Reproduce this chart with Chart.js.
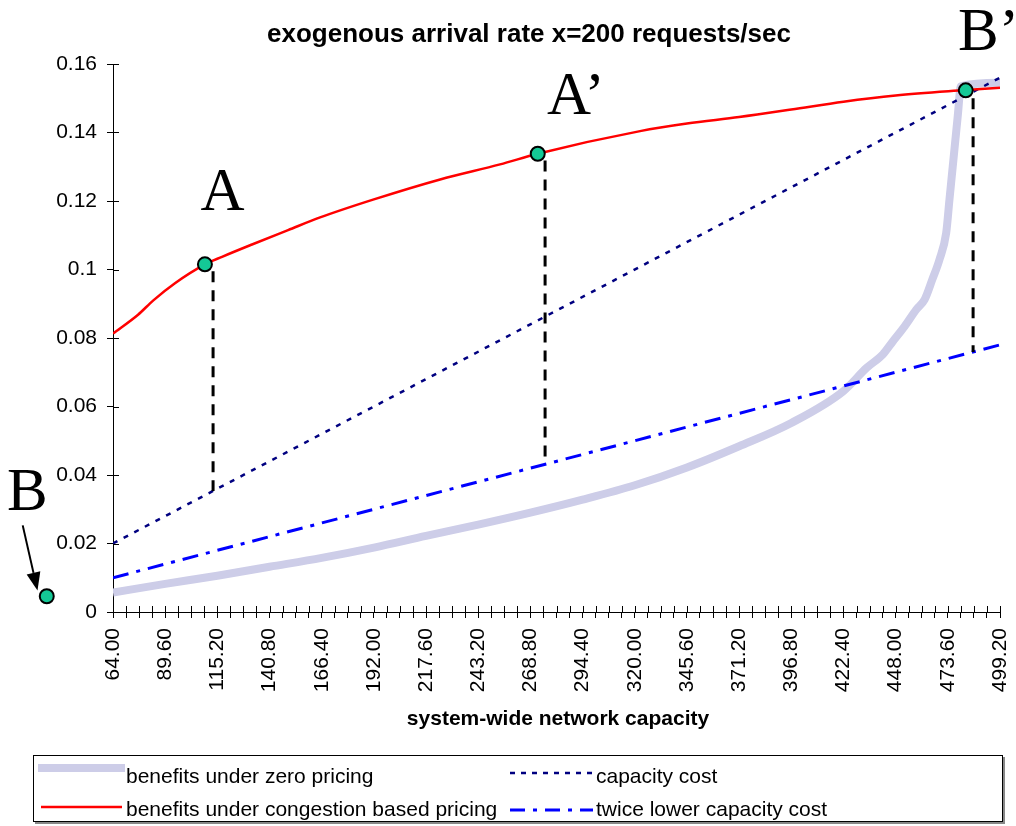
<!DOCTYPE html>
<html>
<head>
<meta charset="utf-8">
<script src="https://cdn.jsdelivr.net/npm/chart.js@4/dist/chart.umd.min.js"></script>
<style>
  body { margin: 0; background: #fff; }
  canvas { display: block; }
</style>
</head>
<body>
<canvas id="myChart" width="1016" height="826"></canvas>
<script>
// chart texts
var titleText = "exogenous arrival rate x=200 requests/sec";
var xTitleText = "system-wide network capacity";
var seriesNames = ["benefits under zero pricing", "benefits under congestion based pricing",
                   "capacity cost", "twice lower capacity cost"];

// tick labels
var xTickLabels = ["64.00", "89.60", "115.20", "140.80", "166.40", "192.00", "217.60", "243.20", "268.80",
                   "294.40", "320.00", "345.60", "371.20", "396.80", "422.40", "448.00", "473.60", "499.20"];
var yTickLabels = ["0", "0.02", "0.04", "0.06", "0.08", "0.1", "0.12", "0.14", "0.16"];

// benefits under zero pricing
var zeroX = [64, 89.6, 115.2, 140.8, 166.4, 192, 217.6, 243.2, 268.8, 294.4, 320, 345.6, 371.2, 396.8,
             422.4, 433.8, 441.7, 446.6, 452.4, 458.1, 462.2, 466, 469.5, 472.8, 474.4, 476, 478.5, 480, 499.2];
var zeroY = [0.0057, 0.0082, 0.0106, 0.0132, 0.0158, 0.0188, 0.0222, 0.0255, 0.0290, 0.0328, 0.0370, 0.0422,
             0.0484, 0.0552, 0.0645, 0.0713, 0.0752, 0.0790, 0.0834, 0.0883, 0.0912, 0.0971, 0.1029, 0.1107,
             0.1204, 0.1300, 0.1450, 0.1535, 0.1545];

// benefits under congestion based pricing
var congX = [64, 76.3, 83.8, 94.4, 109.1, 117.5, 132.2, 149.9, 165.6, 191.6, 224.5, 253.9, 272.4, 322.6, 345.6,
             371.2, 396.8, 422.4, 448, 482.4, 499.2];
var congY = [0.0813, 0.0868, 0.0910, 0.0960, 0.1015, 0.1037, 0.1073, 0.1115, 0.1152, 0.1204, 0.1263, 0.1307,
             0.1338, 0.1404, 0.1426, 0.1445, 0.1467, 0.1490, 0.1508, 0.1524, 0.1531];

// capacity costs
var capX = [64, 499.2];
var capY = [0.020, 0.156];
var twiceX = [64, 499.2];
var twiceY = [0.010, 0.078];

// points B, A, A', B' and their labels
var markX = [31.5, 109.1, 272.4, 482.4];
var markY = [0.0046, 0.1015, 0.1338, 0.1523];
var markText = ["B", "A", "A\u2019", "B\u2019"];
var markTextX = [12.0, 106.9, 277.0, 478.6];
var markTextY = [0.0299, 0.1175, 0.1453, 0.1642];

// dashed drops from A, A', B'
var dropX = [113.1, 276.0, 486.0];
var dropTop = [0.0995, 0.1318, 0.1500];
var dropBottom = [0.0353, 0.0431, 0.0759];

// arrow pointing at B
var arrowX = [19.7, 26.95];
var arrowY = [0.0253, 0.0063];

function pts(xs, ys) {
    return xs.map(function(x, i) { return {x: x, y: ys[i]}; });
}

var lavender = "#cdcde8";
var red = "#ff0000";
var navy = "#000080";
var blue = "#0000ff";
var green = "#14c896";
var sansFont = "Arial, 'Liberation Sans', sans-serif";
var serifFont = "'Times New Roman', 'Liberation Serif', serif";

var datasets = [];
for (var i = 0; i < dropX.length; i++) {
    datasets.push({
        label: "drop" + i, data: [{x: dropX[i], y: dropTop[i]}, {x: dropX[i], y: dropBottom[i]}],
        borderColor: "#000", borderWidth: 3, borderDash: [11, 8], pointRadius: 0, order: 1
    });
}
datasets.push({
    label: seriesNames[1], data: pts(congX, congY), borderColor: red, borderWidth: 2.5,
    pointRadius: 0, cubicInterpolationMode: "monotone", order: 2
});
datasets.push({
    label: seriesNames[2], data: pts(capX, capY), borderColor: navy, borderWidth: 2.5,
    borderDash: [5, 7], pointRadius: 0, order: 3
});
datasets.push({
    label: seriesNames[3], data: pts(twiceX, twiceY), borderColor: blue, borderWidth: 3,
    borderDash: [16, 8, 4, 8], pointRadius: 0, order: 4
});
datasets.push({
    label: seriesNames[0], data: pts(zeroX, zeroY), borderColor: lavender, borderWidth: 8,
    pointRadius: 0, cubicInterpolationMode: "monotone", order: 5
});

// minor ticks: 4 per labelled step
var labelVals = xTickLabels.map(parseFloat);
var xTickVals = [];
for (var k = 0; k < labelVals.length - 1; k++) {
    var step = (labelVals[k + 1] - labelVals[k]) / 4;
    for (var m = 0; m < 4; m++) xTickVals.push(labelVals[k] + step * m);
}
xTickVals.push(labelVals[labelVals.length - 1]);

var extras = {
    id: "extras",
    afterDraw: function(chart) {
        var ctx = chart.ctx, xs = chart.scales.x, ys = chart.scales.y, area = chart.chartArea;
        ctx.save();
        // inner halves of tick marks
        ctx.strokeStyle = "#000";
        ctx.lineWidth = 1;
        ys.ticks.forEach(function(t) {
            var p = Math.round(ys.getPixelForValue(t.value)) + 0.5;
            ctx.beginPath(); ctx.moveTo(area.left, p); ctx.lineTo(area.left + 6, p); ctx.stroke();
        });
        xs.ticks.forEach(function(t) {
            var p = Math.round(xs.getPixelForValue(t.value)) + 0.5;
            ctx.beginPath(); ctx.moveTo(p, area.bottom - 6); ctx.lineTo(p, area.bottom); ctx.stroke();
        });

        // marked points (B lies left of the plot area)
        ctx.lineWidth = 2;
        for (var j = 0; j < markX.length; j++) {
            ctx.beginPath();
            ctx.arc(xs.getPixelForValue(markX[j]), ys.getPixelForValue(markY[j]), 7, 0, Math.PI * 2);
            ctx.fillStyle = green; ctx.fill();
            ctx.strokeStyle = "#000"; ctx.stroke();
        }

        // titles
        ctx.fillStyle = "#000";
        ctx.textAlign = "center";
        ctx.textBaseline = "alphabetic";
        ctx.font = "bold 26px " + sansFont;
        ctx.fillText(titleText, 529, 42);
        ctx.font = "bold 21px " + sansFont;
        ctx.fillText(xTitleText, 558, 725);

        // letters
        ctx.textAlign = "left";
        ctx.font = "61px " + serifFont;
        for (var i = 0; i < markText.length; i++) {
            ctx.fillText(markText[i], xs.getPixelForValue(markTextX[i]), ys.getPixelForValue(markTextY[i]));
        }

        // arrow to B
        var x0 = xs.getPixelForValue(arrowX[0]), y0 = ys.getPixelForValue(arrowY[0]);
        var x1 = xs.getPixelForValue(arrowX[1]), y1 = ys.getPixelForValue(arrowY[1]);
        var len = Math.hypot(x1 - x0, y1 - y0), ux = (x1 - x0) / len, uy = (y1 - y0) / len;
        var bx = x1 - ux * 18, by = y1 - uy * 18;
        ctx.strokeStyle = "#000";
        ctx.lineWidth = 2;
        ctx.beginPath(); ctx.moveTo(x0, y0); ctx.lineTo(bx, by); ctx.stroke();
        ctx.fillStyle = "#000";
        ctx.beginPath();
        ctx.moveTo(x1, y1);
        ctx.lineTo(bx - uy * 7, by + ux * 7);
        ctx.lineTo(bx + uy * 7, by - ux * 7);
        ctx.closePath(); ctx.fill();

        // legend box
        ctx.fillStyle = "#888";
        ctx.fillRect(35, 822, 969, 2);
        ctx.fillRect(1003, 757, 2, 67);
        ctx.fillStyle = "#fff";
        ctx.fillRect(33, 755, 970, 67);
        ctx.strokeStyle = "#000";
        ctx.lineWidth = 1;
        ctx.strokeRect(33.5, 755.5, 969, 66);

        var rows = [[0, 38, 125, 768, 126, 783], [1, 41, 122, 807, 126, 816],
                    [2, 510, 593, 773, 596, 783], [3, 510, 593, 810, 596, 816]];
        var styles = [[lavender, 8, []], [red, 2.5, []], [navy, 2.5, [5, 6]], [blue, 3, [15, 8, 4, 8]]];
        ctx.font = "21px " + sansFont;
        rows.forEach(function(r) {
            var s = styles[r[0]];
            ctx.strokeStyle = s[0]; ctx.lineWidth = s[1]; ctx.setLineDash(s[2]);
            ctx.beginPath(); ctx.moveTo(r[1], r[3]); ctx.lineTo(r[2], r[3]); ctx.stroke();
            ctx.setLineDash([]);
            ctx.fillStyle = "#000";
            ctx.fillText(seriesNames[r[0]], r[4], r[5]);
        });
        ctx.restore();
    }
};

var ctx = document.getElementById("myChart").getContext("2d");
var myChart = new Chart(ctx, {
    type: "line",
    data: { datasets: datasets },
    options: {
        responsive: false,
        animation: false,
        devicePixelRatio: 1,
        layout: { padding: { top: 64, right: 16, bottom: 74, left: 0 } },
        plugins: { legend: { display: false }, tooltip: { enabled: false } },
        scales: {
            x: {
                type: "linear", min: 64, max: 499.2,
                afterBuildTicks: function(scale) {
                    scale.ticks = xTickVals.map(function(v) { return {value: v}; });
                },
                afterFit: function(scale) {
                    scale.height = 140;
                    scale.paddingLeft = 0;
                    scale.paddingRight = 0;
                },
                ticks: {
                    autoSkip: false, minRotation: 90, maxRotation: 90, padding: 10, color: "#000",
                    font: { family: sansFont, size: 21 },
                    callback: function(v, i) { return i % 4 === 0 ? xTickLabels[i / 4] : ""; }
                },
                grid: { drawOnChartArea: false, tickLength: 6, color: "#000" },
                border: { color: "#000", width: 1 }
            },
            y: {
                min: 0, max: 0.16,
                afterFit: function(scale) { scale.width = 113; },
                ticks: {
                    stepSize: 0.02, padding: 10, color: "#000",
                    font: { family: sansFont, size: 21 },
                    callback: function(v, i) { return yTickLabels[i]; }
                },
                grid: { drawOnChartArea: false, tickLength: 6, color: "#000" },
                border: { color: "#000", width: 1 }
            }
        }
    },
    plugins: [extras]
});
</script>
</body>
</html>
